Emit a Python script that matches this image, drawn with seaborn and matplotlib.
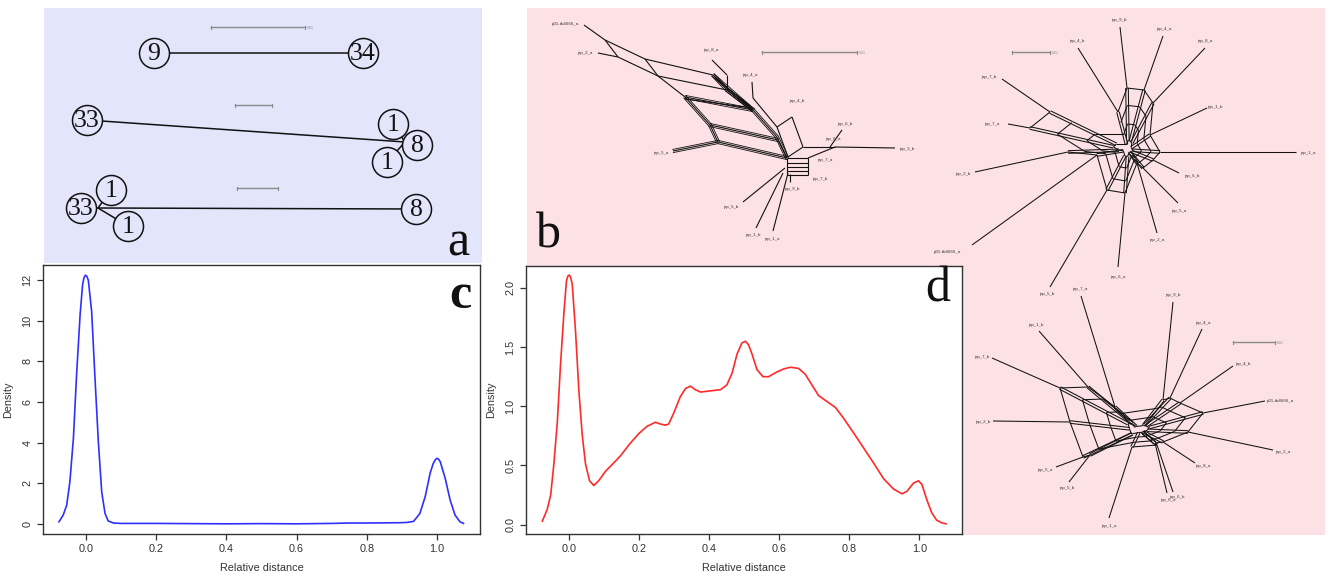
import numpy as np
import pandas as pd
import matplotlib
matplotlib.use("Agg")
import matplotlib.pyplot as plt
import seaborn as sns
from matplotlib.collections import LineCollection

# ---------------- data: density curves ----------------
c_x = [-0.076, -0.064, -0.054, -0.045, -0.035, -0.026, -0.016, -0.009, -0.005, -0.001, 0.003, 0.0075,
       0.017, 0.026, 0.036, 0.0455, 0.055, 0.064, 0.079, 0.10, 0.2, 0.3, 0.4, 0.5, 0.6, 0.7, 0.75,
       0.8, 0.895, 0.915, 0.933, 0.951, 0.966, 0.98, 0.989, 0.995, 0.999, 1.004, 1.009, 1.023, 1.037,
       1.051, 1.065, 1.075]
c_y = [0.11, 0.44, 0.93, 2.08, 4.21, 7.32, 10.27, 11.74, 12.10, 12.23, 12.18, 11.98,
       10.43, 7.32, 4.04, 1.59, 0.52, 0.15, 0.05, 0.03, 0.03, 0.02, 0.01, 0.02, 0.01, 0.03, 0.05,
       0.05, 0.065, 0.08, 0.13, 0.52, 1.34, 2.49, 2.98, 3.16, 3.23, 3.19, 3.06, 2.24, 1.18,
       0.44, 0.11, 0.03]

d_x = [-0.077, -0.063, -0.053, -0.044, -0.034, -0.025, -0.015, -0.008, -0.004, 0.0, 0.004, 0.0086,
       0.018, 0.0275, 0.037, 0.0465, 0.058, 0.070, 0.084, 0.1035, 0.13, 0.146, 0.175, 0.199, 0.222,
       0.246, 0.26, 0.275, 0.284, 0.298, 0.317, 0.332, 0.346, 0.36, 0.375, 0.403, 0.432, 0.45,
       0.465, 0.479, 0.493, 0.503, 0.512, 0.522, 0.536, 0.553, 0.569, 0.593, 0.612, 0.631, 0.655,
       0.674, 0.693, 0.712, 0.736, 0.76, 0.783, 0.812, 0.84, 0.869, 0.897, 0.926, 0.95, 0.964,
       0.983, 0.997, 1.007, 1.021, 1.035, 1.049, 1.064, 1.076]
d_y = [0.028, 0.127, 0.25, 0.51, 0.87, 1.35, 1.80, 2.06, 2.10, 2.11, 2.09, 2.03,
       1.63, 1.13, 0.76, 0.51, 0.37, 0.33, 0.37, 0.45, 0.53, 0.58, 0.69, 0.77, 0.83,
       0.865, 0.85, 0.84, 0.85, 0.94, 1.08, 1.15, 1.17, 1.14, 1.12, 1.13, 1.14, 1.18,
       1.28, 1.44, 1.535, 1.55, 1.52, 1.44, 1.31, 1.25, 1.25, 1.29, 1.315, 1.33, 1.32,
       1.27, 1.18, 1.09, 1.04, 0.99, 0.90, 0.775, 0.65, 0.52, 0.39, 0.30, 0.26, 0.28,
       0.35, 0.37, 0.34, 0.21, 0.10, 0.037, 0.014, 0.006]

x_ticks = [0.0, 0.2, 0.4, 0.6, 0.8, 1.0]
c_yticks = [0, 2, 4, 6, 8, 10, 12]
d_yticks = [0.0, 0.5, 1.0, 1.5, 2.0]

# ---------------- data: panel a (haplotype networks, figure pixels) ----------------
a_node_lab = ["9", "34", "33", "1", "8", "1", "33", "1", "1", "8"]
a_node_x = [154, 363, 87, 393, 417, 387, 81, 111, 128, 416]
a_node_y = [53, 53, 120, 124, 145, 162, 208, 190, 226, 209]
a_edge_x1 = [154, 87, 405, 405, 405, 98, 98, 98, 98]
a_edge_y1 = [53, 120, 142, 142, 142, 208, 208, 208, 208]
a_edge_x2 = [363, 405, 393, 417, 387, 81, 111, 128, 416]
a_edge_y2 = [53, 142, 124, 145, 162, 208, 190, 226, 209]
a_bar_x1 = [211, 235, 237]
a_bar_x2 = [305, 272, 278]
a_bar_y = [27, 105, 188]

# ---------------- data: panel b networks ----------------
# network 1 (explicit splits graph segments)
b1_x1 = [584, 598, 605, 605, 618, 645, 645, 658, 658, 712, 727, 713, 727, 713, 727, 685, 685, 710, 710,
         718, 673, 753, 777, 752, 753, 777, 792, 803, 788, 803, 835, 842, 787, 808, 808, 787, 787, 787,
         787, 808, 790, 743, 756, 773, 778, 685, 715]
b1_y1 = [25, 53, 40, 40, 57, 59, 59, 76, 76, 60, 75, 75, 90, 75, 90, 97, 97, 125, 125,
         142, 151, 110, 137, 82, 98, 127, 117, 147, 157, 147, 147, 130, 158, 158, 175, 163, 167, 171,
         175, 158, 182, 202, 228, 231, 140, 99, 78]
b1_x2 = [605, 618, 618, 645, 658, 658, 713, 685, 727, 727, 727, 727, 753, 753, 753, 753, 710, 718, 778,
         787, 718, 777, 787, 753, 777, 792, 803, 788, 777, 835, 895, 830, 808, 808, 787, 808, 808, 808,
         787, 835, 790, 785, 783, 788, 787, 752, 750]
b1_y2 = [40, 57, 57, 59, 76, 76, 75, 97, 90, 75, 90, 90, 110, 110, 110, 110, 125, 142, 140,
         158, 142, 137, 158, 98, 127, 117, 147, 157, 127, 147, 148, 147, 158, 175, 175, 163, 167, 171,
         158, 147, 174, 168, 173, 173, 158, 108, 106]
b1_lab = ["p01-tb4666_a", "jap_2_a", "jap_8_a", "jap_4_a", "jap_4_b", "jap_6_b", "jap_6_a", "jap_3_b",
          "jap_7_a", "jap_7_b", "jap_9_b", "jap_5_b", "jap_1_b", "jap_1_a", "jap_5_a"]
b1_lab_x = [565, 585, 711, 750, 797, 845, 833, 907, 825, 820, 792, 731, 753, 772, 661]
b1_lab_y = [24, 53, 50, 75, 101, 124, 139, 149, 160, 179, 189, 207, 235, 239, 153]

# network 2 (leaf end, attachment point) + hub
b2_hub = (1128, 150)
b2_lab = ["jap_9_b", "jap_4_a", "jap_8_a", "jap_4_b", "jap_7_b", "jap_7_a", "jap_1_b", "jap_1_a",
          "jap_2_b", "jap_6_b", "jap_5_a", "jap_2_a", "p01-tb4666_a", "jap_5_b", "jap_6_a"]
b2_lab_x = [1119, 1164, 1205, 1077, 989, 992, 1215, 1308, 963, 1192, 1179, 1157, 947, 1047, 1118]
b2_lab_y = [20, 29, 41, 41, 77, 124, 107, 153, 174, 176, 211, 240, 252, 294, 277]
b2_end_x = [1120, 1163, 1205, 1078, 1002, 1008, 1207, 1296, 975, 1179, 1178, 1157, 972, 1050, 1118]
b2_end_y = [27, 36, 48, 48, 79, 124, 108, 152, 172, 173, 203, 233, 245, 287, 267]
b2_in_x = [1127, 1144, 1153, 1118, 1050, 1030, 1150, 1160, 1068, 1153, 1143, 1137, 1097, 1107, 1125]
b2_in_y = [88, 90, 103, 112, 112, 128, 135, 152, 152, 160, 168, 163, 155, 190, 193]

# network 3
b3_hub = (1140, 430)
b3_lab = ["jap_7_a", "jap_9_b", "jap_4_a", "jap_1_b", "jap_7_b", "jap_4_b", "p01-tb4666_a", "jap_2_b",
          "jap_2_a", "jap_5_a", "jap_5_b", "jap_8_a", "jap_6_a", "jap_6_b", "jap_1_a"]
b3_lab_x = [1080, 1173, 1203, 1036, 982, 1243, 1280, 983, 1283, 1045, 1067, 1203, 1168, 1177, 1109]
b3_lab_y = [289, 295, 323, 325, 357, 364, 401, 422, 452, 470, 488, 466, 500, 497, 526]
b3_end_x = [1081, 1173, 1202, 1039, 992, 1233, 1265, 993, 1273, 1056, 1069, 1195, 1167, 1173, 1109]
b3_end_y = [296, 302, 329, 331, 358, 366, 401, 421, 450, 467, 482, 463, 493, 492, 518]
b3_in_x = [1115, 1163, 1170, 1088, 1060, 1180, 1203, 1070, 1188, 1083, 1090, 1163, 1155, 1157, 1132]
b3_in_y = [407, 400, 398, 387, 388, 403, 413, 422, 432, 457, 455, 442, 443, 445, 447]

b_bar_x1 = [762, 1012, 1233]
b_bar_x2 = [857, 1050, 1275]
b_bar_y = [52, 52, 342]

# ---------------- figure ----------------
W, H = 1331, 572
fig = plt.figure(figsize=(W / 100, H / 100), dpi=100)
SANS = ["Liberation Sans", "DejaVu Sans"]
SERIF = ["Liberation Serif", "DejaVu Serif"]
BLUE_BG = "#e3e6fb"
PINK_BG = "#fde2e5"


def axes_px(x0, y0, x1, y1, **kw):
    return fig.add_axes([x0 / W, 1 - y1 / H, (x1 - x0) / W, (y1 - y0) / H], **kw)


def bare(ax, fc, x0, y0, x1, y1):
    ax.set_facecolor(fc)
    ax.set_xlim(x0, x1)
    ax.set_ylim(y1, y0)
    ax.set_xticks([])
    ax.set_yticks([])
    for s in ax.spines.values():
        s.set_visible(False)


# ---- panel a ----
axa = axes_px(44, 8, 482, 263)
bare(axa, BLUE_BG, 44, 8, 482, 263)
axa.add_collection(LineCollection(
    [[(x1, y1), (x2, y2)] for x1, y1, x2, y2 in zip(a_edge_x1, a_edge_y1, a_edge_x2, a_edge_y2)],
    colors="#111111", linewidths=1.1, zorder=2))
axa.scatter(a_node_x, a_node_y, s=(30 * 0.72) ** 2, facecolors=BLUE_BG, edgecolors="#111111",
            linewidths=1.1, zorder=3)
for lab, x, y in zip(a_node_lab, a_node_x, a_node_y):
    axa.text(x, y + 1, lab, ha="center", va="center", fontsize=18.5, family=SERIF, color="#111111", zorder=4)
for x1, x2, y in zip(a_bar_x1, a_bar_x2, a_bar_y):
    axa.plot([x1, x2], [y, y], color="#8a8a8a", lw=1.0)
    axa.plot([x1, x1], [y - 1.5, y + 1.5], color="#8a8a8a", lw=0.8)
    axa.plot([x2, x2], [y - 1.5, y + 1.5], color="#8a8a8a", lw=0.8)
axa.text(a_bar_x2[0] + 2, a_bar_y[0] + 1, "0.01", fontsize=2.5, color="#8a8a8a",
         va="center", family=SANS)
axa.text(458, 243, "a", ha="center", va="center", fontsize=36, family=SERIF, color="#111111")

# ---- panel b ----
axb = axes_px(527, 8, 1325, 535)
bare(axb, PINK_BG, 527, 8, 1325, 535)
LC = "#111111"
axb.add_collection(LineCollection(
    [[(x1, y1), (x2, y2)] for x1, y1, x2, y2 in zip(b1_x1, b1_y1, b1_x2, b1_y2)],
    colors=LC, linewidths=0.8))
for x1, y1, x2, y2 in zip(b1_x1[11:23], b1_y1[11:23], b1_x2[11:23], b1_y2[11:23]):
    d = np.array([x2 - x1, y2 - y1], float)
    n = np.array([-d[1], d[0]]) / max(np.hypot(*d), 1e-6)
    for off in (-1.6, 1.6):
        axb.plot([x1 + n[0] * off, x2 + n[0] * off], [y1 + n[1] * off, y2 + n[1] * off], color=LC, lw=0.6)
for lab, x, y in zip(b1_lab, b1_lab_x, b1_lab_y):
    axb.text(x, y, lab, fontsize=3.2, ha="center", va="center", color="#333333", family=SANS)


def draw_net(ax, hub, ex, ey, ix, iy, labs, lx, ly):
    hub = np.array(hub, float)
    segs = []
    inner = np.column_stack([ix, iy]).astype(float)
    rings = [inner, hub + 0.72 * (inner - hub), hub + 0.42 * (inner - hub), hub + 0.15 * (inner - hub)]
    for e0, e1, p in zip(ex, ey, inner):
        segs.append([(e0, e1), tuple(p)])
    # radial split edges between rings
    for r in range(len(rings) - 1):
        for p, m in zip(rings[r], rings[r + 1]):
            d = m - p
            n = np.array([-d[1], d[0]]) / max(np.hypot(*d), 1e-6)
            for off in (-1.3, 1.3):
                segs.append([tuple(p + n * off), tuple(m + n * off)])
    # ring edges (parallel box sides)
    ang = np.arctan2(inner[:, 1] - hub[1], inner[:, 0] - hub[0])
    order = np.argsort(ang)
    lim = [40, 45, 40, 30]
    for r, ring in enumerate(rings):
        for k in range(len(order)):
            i, j = order[k], order[(k + 1) % len(order)]
            if np.hypot(*(ring[i] - ring[j])) < lim[r]:
                segs.append([tuple(ring[i]), tuple(ring[j])])
    ax.add_collection(LineCollection(segs, colors=LC, linewidths=0.75))
    for lab, x, y in zip(labs, lx, ly):
        ax.text(x, y, lab, fontsize=3.2, ha="center", va="center", color="#333333", family=SANS)


draw_net(axb, b2_hub, b2_end_x, b2_end_y, b2_in_x, b2_in_y, b2_lab, b2_lab_x, b2_lab_y)
draw_net(axb, b3_hub, b3_end_x, b3_end_y, b3_in_x, b3_in_y, b3_lab, b3_lab_x, b3_lab_y)
for x1, x2, y in zip(b_bar_x1, b_bar_x2, b_bar_y):
    axb.plot([x1, x2], [y, y], color="#8a8a8a", lw=1.0)
    axb.plot([x1, x1], [y - 1.5, y + 1.5], color="#8a8a8a", lw=0.8)
    axb.plot([x2, x2], [y - 1.5, y + 1.5], color="#8a8a8a", lw=0.8)
    axb.text(x2 + 2, y + 1, "0.01", fontsize=2.5, color="#8a8a8a", va="center", family=SANS)
axb.text(548, 235, "b", ha="center", va="center", fontsize=36, family=SERIF, color="#111111")


# ---- density panels ----
def style_density(ax, yticks, yfmt, xlim, ylim):
    ax.set_facecolor("white")
    ax.set_xlim(*xlim)
    ax.set_ylim(*ylim)
    ax.set_xticks(x_ticks)
    ax.set_xticklabels([f"{t:.1f}" for t in x_ticks])
    ax.set_yticks(yticks)
    ax.set_yticklabels([yfmt.format(t) for t in yticks], rotation=90, va="center")
    ax.tick_params(direction="out", length=4.5, width=0.9, colors="#333333", labelsize=7.8, pad=3)
    for lab in ax.get_xticklabels() + ax.get_yticklabels():
        lab.set_family(SANS)
    for s in ax.spines.values():
        s.set_visible(True)
        s.set_color("#333333")
        s.set_linewidth(1.0)
    ax.set_xlabel("Relative distance", fontsize=7.8, family=SANS, color="#333333", labelpad=6)
    ax.set_ylabel("Density", fontsize=7.8, family=SANS, color="#333333", labelpad=7)


axc = axes_px(43, 265, 480, 534)
sns.lineplot(data=pd.DataFrame({"x": c_x, "y": c_y}), x="x", y="y", ax=axc, color="#2f2fff",
             linewidth=1.2, sort=False)
style_density(axc, c_yticks, "{:d}", (-0.1215, 1.122), (-0.49, 12.73))
axc.text(0.955, 0.885, "c", transform=axc.transAxes, ha="center", va="center", fontsize=36,
         family=SERIF, fontweight="bold", color="#111111")

axd = axes_px(526, 265.5, 962, 534)
axd.set_zorder(3)
sns.lineplot(data=pd.DataFrame({"x": d_x, "y": d_y}), x="x", y="y", ax=axd, color="#ff2a2a",
             linewidth=1.2, sort=False)
style_density(axd, d_yticks, "{:.1f}", (-0.1235, 1.1215), (-0.08, 2.19))
axd.text(0.945, 0.91, "d", transform=axd.transAxes, ha="center", va="center", fontsize=36,
         family=SERIF, color="#111111")

fig.savefig("out.png", dpi=100)
